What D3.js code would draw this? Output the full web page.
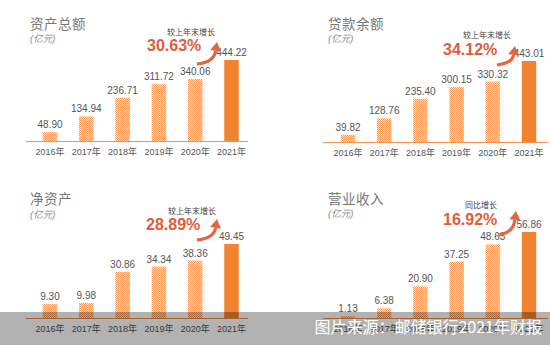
<!DOCTYPE html>
<html><head><meta charset="utf-8">
<script src="https://cdn.jsdelivr.net/npm/d3@7"></script>
<style>
body{margin:0;background:#fff;}
svg{display:block;font-family:"Liberation Sans","Noto Sans CJK SC",Arial,sans-serif;}
</style></head>
<body><svg id="c" width="550" height="345"></svg>
<script>
const years = ["2016年","2017年","2018年","2019年","2020年","2021年"];
const totalAssets = [48.90,134.94,236.71,311.72,340.06,444.22];
const loanBalance = [39.82,128.76,235.40,300.15,330.32,443.01];
const netAssets = [9.30,9.98,30.86,34.34,38.36,49.45];
const revenue = [1.13,6.38,20.90,37.25,48.63,56.86];
const titles = ["资产总额","贷款余额","净资产","营业收入"];
const growthLabels = ["较上年末增长","较上年末增长","较上年末增长","同比增长"];
const growthValues = ["30.63%","34.12%","28.89%","16.92%"];
const unit = "(亿元)";
const source = "图片来源：邮储银行2021年财报";

const svg = d3.select("#c");
const defs = svg.append("defs");
const pat = defs.append("pattern").attr("id","hatch").attr("patternUnits","userSpaceOnUse")
  .attr("width",2).attr("height",2);
pat.append("rect").attr("width",2).attr("height",2).attr("fill","#fde2cc");
pat.append("rect").attr("width",1).attr("height",1).attr("fill","#f39a58");
pat.append("rect").attr("x",1).attr("y",1).attr("width",1).attr("height",1).attr("fill","#f39a58");

const layout = [
  {data: totalAssets, x0:31.85, x1:249.65, ax0:26, ax1:248, base:141, h:81, tx:30, ty:29, uy:42,
   lx:167, ly:35, px:147, py:51, ar:[197,64,217,42]},
  {data: loanBalance, x0:329.9, x1:547.1, ax0:323, ax1:548, base:142, h:81, tx:328, ty:29, uy:42,
   lx:463, ly:38, px:443, py:55, ar:[497,65,515,46]},
  {data: netAssets, x0:31.85, x1:249.65, ax0:26, ax1:248, base:318, h:74, tx:30, ty:204, uy:218,
   lx:168, ly:214, px:146, py:230, ar:[197,240,217,219]},
  {data: revenue, x0:329.9, x1:547.1, ax0:323, ax1:548, base:318, h:86, tx:328, ty:204, uy:217,
   lx:465, ly:208, px:443, py:225, ar:[498,235,516,211]}
];

layout.forEach((p,k)=>{
  const g = svg.append("g");
  const x = d3.scaleBand().domain(years).range([p.x0,p.x1]).paddingInner(0.6).paddingOuter(0.3);
  const y = d3.scaleLinear().domain([0, d3.max(p.data)]).range([p.base, p.base - p.h]);
  const rows = years.map((yr,i)=>({yr, v:p.data[i], last:i===years.length-1}));

  g.append("text").attr("x",p.tx).attr("y",p.ty).attr("font-size",13.5).attr("fill","#777")
    .attr("letter-spacing",0.5).text(titles[k]);
  g.append("text").attr("x",p.tx).attr("y",p.uy).attr("font-size",9.5).attr("font-style","italic")
    .attr("fill","#8a8a8a").text(unit);

  g.selectAll("rect.bar").data(rows).enter().append("rect").attr("class","bar")
    .attr("x",d=>x(d.yr)).attr("width",x.bandwidth())
    .attr("y",d=>y(d.v)).attr("height",d=>p.base - y(d.v))
    .attr("fill",d=>d.last?"#f28431":"url(#hatch)");

  g.selectAll("text.val").data(rows).enter().append("text").attr("class","val")
    .attr("x",d=>x(d.yr)+x.bandwidth()/2).attr("y",d=>y(d.v)-4)
    .attr("text-anchor","middle").attr("font-size",10).attr("fill","#555")
    .text(d=>d.v.toFixed(2));

  g.append("line").attr("x1",p.ax0).attr("x2",p.ax1).attr("y1",p.base+0.5).attr("y2",p.base+0.5)
    .attr("stroke","#f39150").attr("stroke-width",1.2);

  const ax = g.append("g").attr("transform",`translate(0,${p.base+8})`)
    .call(d3.axisBottom(x).tickSize(0).tickPadding(0));
  ax.select(".domain").remove();
  ax.selectAll("text").attr("font-size",9).attr("fill","#555")
    .attr("font-family",'"Liberation Sans","Noto Sans CJK SC",Arial,sans-serif').attr("dy","0.71em");

  g.append("text").attr("x",p.lx).attr("y",p.ly).attr("font-size",8).attr("fill","#444").text(growthLabels[k]);
  g.append("text").attr("x",p.px).attr("y",p.py).attr("font-size",16).attr("font-weight","bold")
    .attr("fill","#e25c3a").text(growthValues[k]);

  // curved arrow
  const [ax0,ay0,ax1,ay1] = p.ar;
  const cx = ax0 + (ax1-ax0)*0.85, cy = ay0 - 2;
  const ang = Math.atan2(ay1-cy, ax1-cx);
  const hl = 9, hw = 5.5;
  const bx = ax1 - hl*Math.cos(ang), by = ay1 - hl*Math.sin(ang);
  g.append("path")
    .attr("d",`M${ax0},${ay0} Q${cx},${cy} ${bx},${by}`)
    .attr("fill","none").attr("stroke","#e5653f").attr("stroke-width",3.2);
  const nx = -Math.sin(ang), ny = Math.cos(ang);
  g.append("path")
    .attr("d",`M${ax1},${ay1} L${bx+nx*hw},${by+ny*hw} L${bx-nx*hw},${by-ny*hw} Z`)
    .attr("fill","#e5653f");
});

svg.append("rect").attr("x",0).attr("y",312).attr("width",550).attr("height",33)
  .attr("fill","rgba(0,0,0,0.3)");
svg.append("text").attr("x",542).attr("y",333).attr("text-anchor","end").attr("font-size",16)
  .attr("fill","#fff").attr("font-family",'"Noto Sans CJK SC",sans-serif').text(source);
</script></body></html>
